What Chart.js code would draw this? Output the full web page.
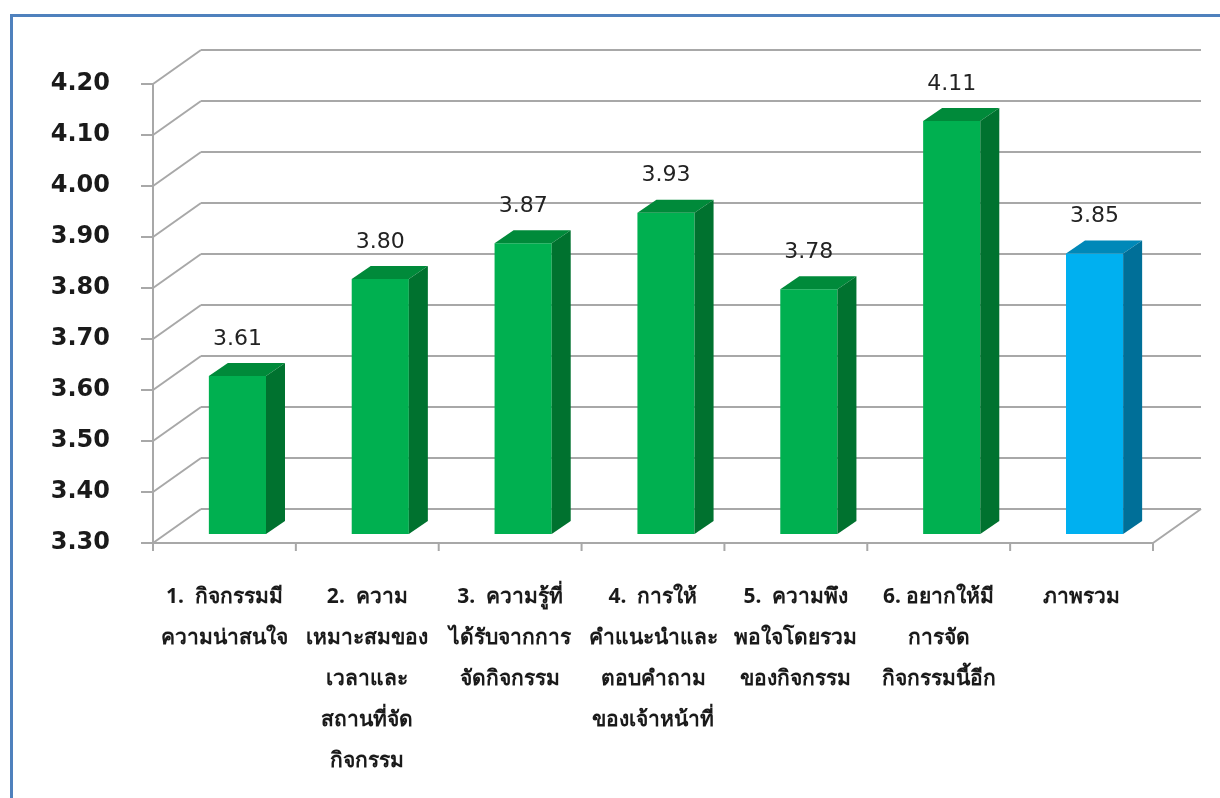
<!DOCTYPE html>
<html lang="th">
<head>
<meta charset="UTF-8">
<title>ผลการประเมินกิจกรรม</title>
<script src="https://cdn.jsdelivr.net/npm/chart.js"></script>
<style>
    html, body { margin: 0; padding: 0; background: #fff; }
    #wrap { position: relative; width: 1220px; height: 798px; overflow: hidden; }
</style>
</head>
<body>
<div id="wrap"><canvas id="chart" width="1220" height="798"></canvas></div>
<script>
// ข้อมูล
const categories = [
    ['1.  กิจกรรมมี', 'ความน่าสนใจ'],
    ['2.  ความ', 'เหมาะสมของ', 'เวลาและ', 'สถานที่จัด', 'กิจกรรม'],
    ['3.  ความรู้ที่', 'ได้รับจากการ', 'จัดกิจกรรม'],
    ['4.  การให้', 'คำแนะนำและ', 'ตอบคำถาม', 'ของเจ้าหน้าที่'],
    ['5.  ความพึง', 'พอใจโดยรวม', 'ของกิจกรรม'],
    ['6. อยากให้มี', 'การจัด', 'กิจกรรมนี้อีก'],
    ['ภาพรวม']
];
const scores = [3.61, 3.80, 3.87, 3.93, 3.78, 4.11, 3.85];
const yMin = 3.30, yMax = 4.20, yStep = 0.10;

// สี: 6 แท่งแรกสีเขียว แท่งสุดท้าย (ภาพรวม) สีฟ้า
const isTotal = i => i === scores.length - 1;
const frontColors = scores.map((v, i) => isTotal(i) ? '#00b0f0' : '#00b050');
const sideColors  = scores.map((v, i) => isTotal(i) ? '#006f98' : '#00722f');
const topColors   = scores.map((v, i) => isTotal(i) ? '#0088b8' : '#008a3a');

// ระยะความลึก 3 มิติ
const BAR_DX = 13, BAR_DY = 9;     // ระนาบแท่ง เทียบกับระนาบหน้า
const WALL_DX = 48, WALL_DY = 34;  // ผนังหลัง เทียบกับระนาบหน้า
const SIDE_DX = 19, SIDE_DY = 13;  // ความลึกของแท่ง

function line(ctx, x1, y1, x2, y2) {
    ctx.beginPath();
    ctx.moveTo(x1, y1);
    ctx.lineTo(x2, y2);
    ctx.stroke();
}

function poly(ctx, pts, color) {
    ctx.beginPath();
    ctx.moveTo(pts[0][0], pts[0][1]);
    pts.slice(1).forEach(p => ctx.lineTo(p[0], p[1]));
    ctx.closePath();
    ctx.fillStyle = color;
    ctx.fill();
}

const frame3d = {
    id: 'frame3d',
    beforeDraw(chart) {
        const ctx = chart.ctx;
        ctx.save();
        ctx.strokeStyle = '#4f81bd';
        ctx.lineWidth = 3;
        ctx.strokeRect(11.5, 15.5, 1400, 1000);
        ctx.restore();
    },
    beforeDatasetsDraw(chart) {
        const { ctx, chartArea: a, scales: { y } } = chart;
        const fl = a.left - BAR_DX, fr = a.right - BAR_DX;
        const bl = fl + WALL_DX, br = fr + WALL_DX;
        ctx.save();
        ctx.strokeStyle = '#a8a8a8';
        ctx.lineWidth = 2;
        y.ticks.forEach(t => {
            const fy = y.getPixelForValue(t.value) + BAR_DY;
            const by = fy - WALL_DY;
            line(ctx, fl, fy, bl, by);
            line(ctx, bl, by, br, by);
            line(ctx, fl - 12, fy, fl, fy);
        });
        const f0 = y.getPixelForValue(yMin) + BAR_DY;
        const fTop = y.getPixelForValue(yMax) + BAR_DY;
        line(ctx, fl, fTop, fl, f0 + 8);
        line(ctx, fl, f0, fr, f0);
        line(ctx, fr, f0, br, f0 - WALL_DY);
        const cw = (fr - fl) / categories.length;
        for (let i = 1; i <= categories.length; i++) {
            line(ctx, fl + i * cw, f0, fl + i * cw, f0 + 8);
        }
        ctx.restore();
    },
    afterDatasetsDraw(chart) {
        const { ctx, scales: { y } } = chart;
        const meta = chart.getDatasetMeta(0);
        const b = y.getPixelForValue(yMin);
        ctx.save();
        meta.data.forEach((bar, i) => {
            const l = bar.x - bar.width / 2, r = bar.x + bar.width / 2;
            const t = bar.y;
            poly(ctx, [[l, t], [l + SIDE_DX, t - SIDE_DY], [r + SIDE_DX, t - SIDE_DY], [r, t]], topColors[i]);
            poly(ctx, [[r, t], [r + SIDE_DX, t - SIDE_DY], [r + SIDE_DX, b - SIDE_DY], [r, b]], sideColors[i]);
            ctx.fillStyle = '#222';
            ctx.font = '22px "DejaVu Sans", Tahoma, sans-serif';
            ctx.textAlign = 'center';
            ctx.textBaseline = 'middle';
            ctx.fillText(scores[i].toFixed(2), bar.x, t - 37);
        });
        ctx.restore();
    }
};

new Chart(document.getElementById('chart'), {
    type: 'bar',
    data: {
        labels: categories,
        datasets: [{
            data: scores,
            backgroundColor: frontColors,
            borderWidth: 0,
            categoryPercentage: 1.0,
            barPercentage: 0.4
        }]
    },
    options: {
        responsive: false,
        animation: false,
        events: [],
        layout: { padding: { top: 75, right: 54, left: 0, bottom: 0 } },
        plugins: {
            legend: { display: false },
            tooltip: { enabled: false }
        },
        scales: {
            x: {
                grid: { display: false, drawTicks: false },
                border: { display: false },
                afterFit: s => { s.height = 264; },
                ticks: {
                    autoSkip: false,
                    maxRotation: 0,
                    padding: 43,
                    labelOffset: -BAR_DX,
                    color: '#1a1a1a',
                    font: { family: 'Tahoma, "Noto Sans", "DejaVu Sans", sans-serif', size: 21, weight: 'bold', lineHeight: '41px' }
                }
            },
            y: {
                min: yMin,
                max: yMax,
                grid: { display: false, drawTicks: false },
                border: { display: false },
                afterFit: s => { s.width = 166; },
                ticks: {
                    stepSize: yStep,
                    padding: 56,
                    labelOffset: BAR_DY,
                    color: '#1a1a1a',
                    callback: v => v.toFixed(2),
                    font: { family: '"DejaVu Sans", Tahoma, sans-serif', size: 24, weight: 'bold' }
                }
            }
        }
    },
    plugins: [frame3d]
});
</script>
</body>
</html>
